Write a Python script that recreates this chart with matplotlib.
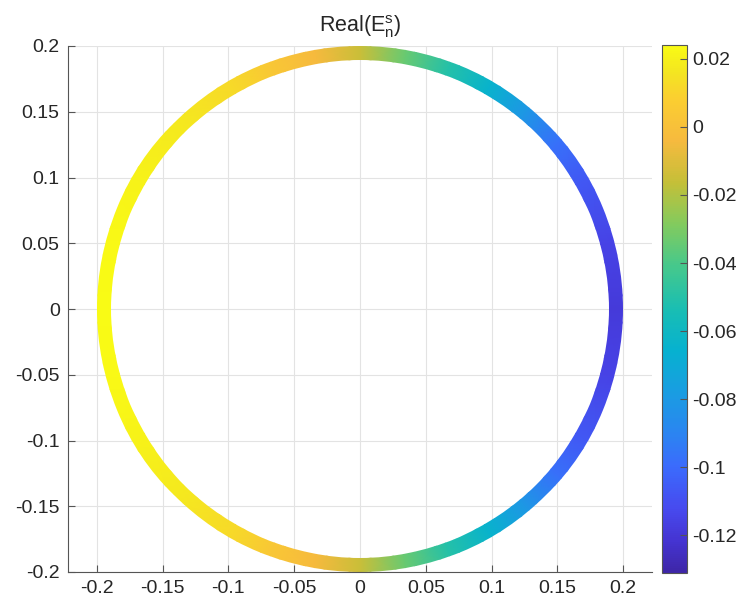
import numpy as np
import matplotlib
matplotlib.use("Agg")
import matplotlib.pyplot as plt
from matplotlib.colors import LinearSegmentedColormap
from matplotlib.patches import Wedge
from matplotlib.ticker import FuncFormatter

plt.rcParams['font.family'] = ['Liberation Sans', 'DejaVu Sans']
plt.rcParams['axes.unicode_minus'] = False

# Field value sampled around the ring (angle in degrees from +x axis)
angles_deg = [0, 15, 30, 40, 50, 60, 70, 80, 90, 100, 110, 120, 135, 150, 165, 180,
              195, 210, 225, 240, 250, 260, 270, 280, 290, 300, 310, 320, 330, 345, 360]
real_es = [-0.119, -0.115, -0.107, -0.098, -0.081, -0.064, -0.050, -0.034, -0.015,
           -0.004, 0.004, 0.012, 0.018, 0.021, 0.023, 0.024,
           0.023, 0.021, 0.018, 0.012, 0.004, -0.004, -0.015, -0.034, -0.050,
           -0.064, -0.081, -0.098, -0.107, -0.115, -0.119]

ring_outer = 0.2
ring_inner = 0.189
color_limits = (-0.131, 0.0241)

x_ticks = [-0.2, -0.15, -0.1, -0.05, 0, 0.05, 0.1, 0.15, 0.2]
y_ticks = [-0.2, -0.15, -0.1, -0.05, 0, 0.05, 0.1, 0.15, 0.2]
cbar_ticks = [-0.12, -0.1, -0.08, -0.06, -0.04, -0.02, 0, 0.02]

# parula-like colormap
parula_pts = [
    (0.00, (0.2422, 0.1504, 0.6603)),
    (0.06, (0.2700, 0.2050, 0.8250)),
    (0.12, (0.2800, 0.2900, 0.9350)),
    (0.20, (0.2300, 0.4200, 0.9900)),
    (0.27, (0.1600, 0.5300, 0.9400)),
    (0.34, (0.1000, 0.6150, 0.8850)),
    (0.42, (0.0250, 0.6950, 0.8150)),
    (0.50, (0.1000, 0.7450, 0.7000)),
    (0.58, (0.2700, 0.7850, 0.5500)),
    (0.66, (0.5100, 0.7950, 0.3700)),
    (0.74, (0.7700, 0.7500, 0.2200)),
    (0.82, (0.9650, 0.7300, 0.2450)),
    (0.90, (0.9850, 0.8100, 0.1900)),
    (0.95, (0.9550, 0.9000, 0.1300)),
    (1.00, (0.9769, 0.9839, 0.0805)),
]
parula = LinearSegmentedColormap.from_list('parula', parula_pts, N=256)

fig = plt.figure(figsize=(7.41, 6.10), dpi=100)
ax = fig.add_axes([68 / 741, 38 / 610, 584 / 741, 526 / 610])
cax = fig.add_axes([662 / 741, 37.5 / 610, 25 / 741, 527.5 / 610])

# ring mesh: two radial rows, slightly oversized then clipped to a true annulus
theta = np.deg2rad(np.asarray(angles_deg))
radii = np.array([ring_inner - 0.004, ring_outer + 0.005])
T, R = np.meshgrid(theta, radii)
X = R * np.cos(T)
Y = R * np.sin(T)
C = np.vstack([real_es, real_es])
mesh = ax.pcolormesh(X, Y, C, shading='gouraud', cmap=parula,
                     vmin=color_limits[0], vmax=color_limits[1], zorder=2)
annulus = Wedge((0, 0), ring_outer, 0, 360, width=ring_outer - ring_inner,
                transform=ax.transData, facecolor='none', edgecolor='none')
ax.add_patch(annulus)
mesh.set_clip_path(annulus)

ax.set_xlim(-0.2219, 0.2219)
ax.set_ylim(-0.2, 0.2)
ax.set_xticks(x_ticks)
ax.set_yticks(y_ticks)
fmt = FuncFormatter(lambda v, p: f"{v:g}" if abs(v) > 1e-12 else "0")
ax.xaxis.set_major_formatter(fmt)
ax.yaxis.set_major_formatter(fmt)

ax.grid(True, color='#e3e3e3', linewidth=0.8, zorder=0)
ax.set_axisbelow(True)
for side in ('top', 'right'):
    ax.spines[side].set_visible(False)
for side in ('left', 'bottom'):
    ax.spines[side].set_color('#555555')
    ax.spines[side].set_linewidth(0.8)
ax.tick_params(direction='in', length=5, width=0.8, color='#555555',
               labelsize=14, labelcolor='#262626', pad=6)

ax.set_title(r'Real(E$\mathregular{_n^s}$)', fontsize=15.5, color='#262626', pad=10)

cb = fig.colorbar(mesh, cax=cax)
cb.set_ticks(cbar_ticks)
cb.ax.yaxis.set_major_formatter(fmt)
cb.outline.set_edgecolor('#555555')
cb.outline.set_linewidth(0.8)
cb.ax.tick_params(direction='in', length=5, width=0.8, color='#555555',
                  labelsize=14, labelcolor='#262626', pad=4)

fig.savefig('out.png', dpi=100)
